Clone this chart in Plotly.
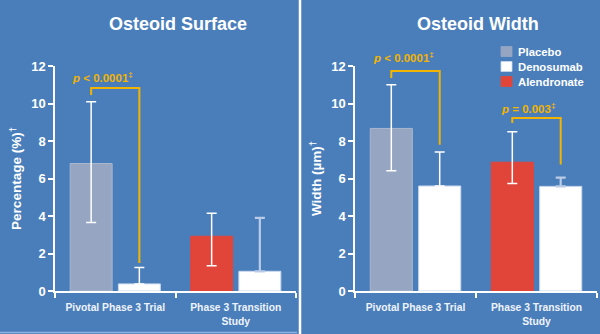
import plotly.graph_objects as go

# ---------------- data ----------------
categories = ["Pivotal Phase 3 Trial", "Phase 3 Transition<br>Study"]

# Osteoid Surface (%)
surf_comparator = [6.8, 2.92]        # placebo (trial 1), alendronate (trial 2)
surf_comp_hi = [10.1, 4.15]
surf_comp_lo = [3.65, 1.35]
surf_denosumab = [0.38, 1.05]
surf_den_hi = [1.25, 3.9]

# Osteoid Width (um)
width_comparator = [8.67, 6.87]
width_comp_hi = [11.0, 8.5]
width_comp_lo = [6.42, 5.73]
width_denosumab = [5.6, 5.58]
width_den_hi = [7.42, 6.05]

# significance brackets: (panel, category index, top, left-leg bottom, right-leg bottom, text y, label)
brackets = [
    (1, 0, 10.83, 10.45, 1.5, 11.42, "<i>p</i> < 0.0001<sup>‡</sup>"),
    (2, 0, 11.73, 11.36, 7.8, 12.5, "<i>p</i> < 0.0001<sup>‡</sup>"),
    (2, 1, 9.23, 8.96, 6.75, 9.78, "<i>p</i> = 0.003<sup>‡</sup>"),
]

legend_names = ["Placebo", "Denosumab", "Alendronate"]

Y_MAX = 12

BG = "#4a7ebb"
PLACEBO = "#96a6c2"
ALEND = "#e1453a"
DEN = "#ffffff"
ORANGE = "#f2b400"
LIGHT = "#b9cbe6"
legend_colors = [PLACEBO, DEN, ALEND]
FONT = "Arial, Liberation Sans, sans-serif"
BARGAP = 0.2
BARGROUPGAP = 0.13

fig = go.Figure()


def add_panel(xa, ya, comp, comp_hi, comp_lo, den, den_hi):
    # comparator trial 1 = placebo
    fig.add_trace(go.Bar(
        x=[categories[0]], y=[comp[0]], name="Placebo",
        showlegend=False, offsetgroup="a", xaxis=xa, yaxis=ya,
        marker=dict(color=PLACEBO, line=dict(color="#a9b7cf", width=1)),
        error_y=dict(type="data", symmetric=False, array=[comp_hi[0] - comp[0]],
                     arrayminus=[comp[0] - comp_lo[0]], color="white", thickness=1.5, width=5),
    ))
    # denosumab trial 1
    fig.add_trace(go.Bar(
        x=[categories[0]], y=[den[0]], name="Denosumab",
        showlegend=False, offsetgroup="b", xaxis=xa, yaxis=ya,
        marker=dict(color=DEN, line=dict(color="#c9d8ee", width=1)),
        error_y=dict(type="data", symmetric=False, array=[den_hi[0] - den[0]],
                     arrayminus=[0], color="white", thickness=1.5, width=5),
    ))
    # alendronate trial 2
    fig.add_trace(go.Bar(
        x=[categories[1]], y=[comp[1]], name="Alendronate",
        showlegend=False, offsetgroup="a", xaxis=xa, yaxis=ya,
        marker=dict(color=ALEND, line=dict(color=ALEND, width=1)),
        error_y=dict(type="data", symmetric=False, array=[comp_hi[1] - comp[1]],
                     arrayminus=[comp[1] - comp_lo[1]], color="white", thickness=1.5, width=5),
    ))
    # denosumab trial 2
    fig.add_trace(go.Bar(
        x=[categories[1]], y=[den[1]], name="Denosumab",
        showlegend=False, offsetgroup="b", xaxis=xa, yaxis=ya,
        marker=dict(color=DEN, line=dict(color="#c9d8ee", width=1)),
        error_y=dict(type="data", symmetric=False, array=[den_hi[1] - den[1]],
                     arrayminus=[0], color=LIGHT, thickness=2.2, width=5),
    ))


add_panel("x", "y", surf_comparator, surf_comp_hi, surf_comp_lo, surf_denosumab, surf_den_hi)
add_panel("x2", "y2", width_comparator, width_comp_hi, width_comp_lo, width_denosumab, width_den_hi)

half = (1 - BARGAP) / 4
for panel, ci, top, lb, rb, ty, label in brackets:
    xr = "x" if panel == 1 else "x2"
    yr = "y" if panel == 1 else "y2"
    xl, xrgt = ci - half, ci + half
    fig.add_shape(type="path", xref=xr, yref=yr,
                  path=f"M {xl},{lb} L {xl},{top} L {xrgt},{top} L {xrgt},{rb}",
                  line=dict(color=ORANGE, width=2))
    fig.add_annotation(x=xrgt, y=ty / Y_MAX, xref=xr, yref=f"{yr} domain", text=label,
                       showarrow=False, xanchor="right", yanchor="middle", xshift=-4,
                       font=dict(family=FONT, size=11.5, color=ORANGE, weight="bold"))

# legend (drawn as keyed swatches + text, in the right panel)
W, H = 600, 334
for i, (name, col) in enumerate(zip(legend_names, legend_colors)):
    cy = 51.5 + 15 * i
    fig.add_shape(type="rect", xref="paper", yref="paper",
                  x0=501 / W, x1=512 / W, y0=1 - (cy + 5) / H, y1=1 - (cy - 5) / H,
                  fillcolor=col, line=dict(color="#c9d8ee" if col == DEN else col, width=0.8))
    fig.add_annotation(x=516 / W, y=1 - cy / H, xref="paper", yref="paper", text=name,
                       showarrow=False, xanchor="left", yanchor="middle",
                       font=dict(family=FONT, size=11.3, color="white", weight="bold"))

# titles
fig.add_annotation(x=178 / W, y=1 - 24 / H, xref="paper", yref="paper", text="Osteoid Surface",
                   showarrow=False, xanchor="center", yanchor="middle",
                   font=dict(family=FONT, size=18, color="white", weight="bold"))
fig.add_annotation(x=478 / W, y=1 - 24 / H, xref="paper", yref="paper", text="Osteoid Width",
                   showarrow=False, xanchor="center", yanchor="middle",
                   font=dict(family=FONT, size=18, color="white", weight="bold"))

# divider and bottom edge
fig.add_shape(type="line", xref="paper", yref="paper", x0=0.5, x1=0.5, y0=0, y1=1,
              line=dict(color="white", width=2.5))
fig.add_shape(type="line", xref="paper", yref="paper", x0=0, x1=297 / W, y0=1.5 / H, y1=1.5 / H,
              line=dict(color="#8fb3e0", width=1.5))

axis_x = dict(type="category", showline=True, linecolor="white", linewidth=1.5,
              ticks="outside", tickson="boundaries", ticklen=5, tickcolor="white", tickwidth=1.5,
              ticklabelstandoff=6,
              tickfont=dict(family=FONT, size=10.3, color="#eef3fa", weight="bold"),
              showgrid=False, zeroline=False, automargin=False)
axis_y = dict(range=[0, Y_MAX], dtick=2, showline=True, linecolor="white", linewidth=1.5,
              ticks="outside", ticklen=5, tickcolor="white", tickwidth=1.5,
              tickfont=dict(family=FONT, size=13, color="white", weight="bold"),
              showgrid=False, zeroline=False, automargin=False)

ydom = [43 / H, 268 / H]
fig.update_layout(
    width=W, height=H,
    margin=dict(l=0, r=0, t=0, b=0, autoexpand=False),
    paper_bgcolor=BG, plot_bgcolor=BG,
    barmode="group", bargap=BARGAP, bargroupgap=BARGROUPGAP,
    xaxis=dict(axis_x, domain=[55 / W, 296 / W], anchor="y"),
    xaxis2=dict(axis_x, domain=[355 / W, 597 / W], anchor="y2"),
    yaxis=dict(axis_y, domain=ydom, anchor="x",
               title=dict(text="Percentage (%)<sup>†</sup>", standoff=6,
                          font=dict(family=FONT, size=13.5, color="white", weight="bold"))),
    yaxis2=dict(axis_y, domain=ydom, anchor="x2",
                title=dict(text="Width (µm)<sup>†</sup>", standoff=6,
                           font=dict(family=FONT, size=13.5, color="white", weight="bold"))),
    showlegend=False,
    font=dict(family=FONT, color="white"),
)

fig.write_html("out.html")
